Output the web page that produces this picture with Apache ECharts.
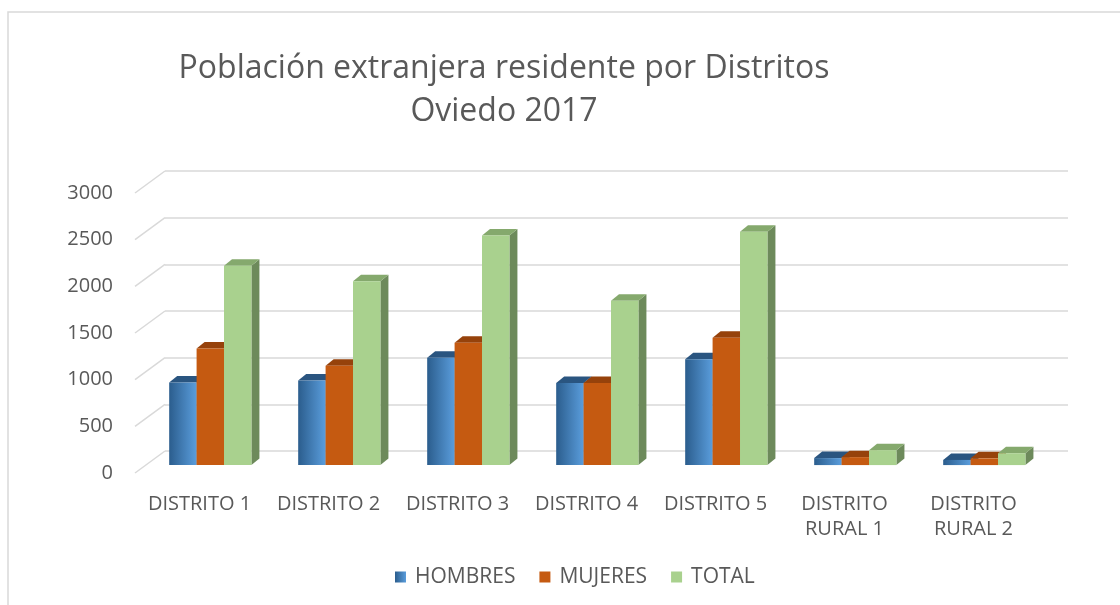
<!DOCTYPE html>
<html>
<head>
<meta charset="utf-8">
<title>Población extranjera residente por Distritos</title>
<script src="https://cdn.jsdelivr.net/npm/echarts/dist/echarts.min.js"></script>
<style>
  html, body { margin: 0; padding: 0; background: #ffffff; }
  #chart { width: 1120px; height: 605px; }
</style>
</head>
<body>
<div id="chart"></div>
<script>
// ---- data ----
const categories = ['DISTRITO 1', 'DISTRITO 2', 'DISTRITO 3', 'DISTRITO 4', 'DISTRITO 5', 'DISTRITO\nRURAL 1', 'DISTRITO\nRURAL 2'];
const hombres = [885, 905, 1150, 880, 1135, 75, 55];
const mujeres = [1250, 1065, 1310, 880, 1365, 85, 72];
const total   = [2135, 1970, 2460, 1760, 2500, 160, 127];
const yTicks  = [0, 500, 1000, 1500, 2000, 2500, 3000];
const seriesNames = ['HOMBRES', 'MUJERES', 'TOTAL'];

// ---- pseudo-3D geometry ----
const FRONT = { left: 135, top: 193, width: 903, height: 280 };   // front edge of the floor
const DEPTH = [30, -22];                                           // front edge -> back wall
const BAR_PLANE = 0.36;                                            // bars sit this far into the depth
const BAR_DEPTH = [8, -6.5];                                       // thickness of each column
const BAR_FRACTION = 0.2125;                                       // column width / category band
const TEXT = '#595959';
const GRID_LINE = '#d9d9d9';

const chart = echarts.init(document.getElementById('chart'));

function gridAt(fx, fy) {
  return {
    left: FRONT.left + fx, top: FRONT.top + fy,
    width: FRONT.width, height: FRONT.height, containLabel: false
  };
}

const faces = [
  {
    front: new echarts.graphic.LinearGradient(0, 0, 1, 0, [
      { offset: 0, color: '#2b5d8d' }, { offset: 1, color: '#5a9ddc' }
    ]),
    top: '#2a5580', side: '#264f78'
  },
  { front: '#c55a11', top: '#96420b', side: '#8a3d0a' },
  { front: '#a9d18e', top: '#85a96d', side: '#6d8a5b' }
];

function columnSeries(name, values, idx) {
  const f = faces[idx];
  return {
    type: 'custom',
    name: name,
    xAxisIndex: 0,
    yAxisIndex: 0,
    itemStyle: { color: f.front },
    data: values.map((v, i) => [i, v]),
    renderItem(params, api) {
      const i = api.value(0);
      const v = api.value(1);
      const base = api.coord([i, 0]);
      const top = api.coord([i, v]);
      const band = api.size([1, 0])[0];
      const bw = band * BAR_FRACTION;
      const x0 = base[0] - 1.5 * bw + idx * bw;
      const x1 = x0 + bw;
      const y0 = top[1];
      const y1 = base[1];
      const dx = BAR_DEPTH[0], dy = BAR_DEPTH[1];
      return {
        type: 'group',
        children: [
          { type: 'polygon', shape: { points: [[x1, y1], [x1, y0], [x1 + dx, y0 + dy], [x1 + dx, y1 + dy]] },
            style: { fill: f.side } },
          { type: 'polygon', shape: { points: [[x0, y0], [x1, y0], [x1 + dx, y0 + dy], [x0 + dx, y0 + dy]] },
            style: { fill: f.top } },
          { type: 'rect', shape: { x: x0, y: y0, width: bw, height: y1 - y0 },
            style: { fill: f.front } }
        ]
      };
    }
  };
}

const valueAxisBase = { type: 'value', min: 0, max: 3000, interval: 500 };

const option = {
  backgroundColor: '#ffffff',
  animation: false,
  textStyle: { fontFamily: '"Open Sans", "Noto Sans", sans-serif' },
  title: {
    text: 'Población extranjera residente por Distritos\nOviedo 2017',
    left: 499,
    top: 42,
    textAlign: 'center',
    textStyle: {
      fontFamily: '"Open Sans", "Noto Sans", sans-serif',
      fontSize: 32, fontWeight: 'normal', color: TEXT, lineHeight: 43
    }
  },
  legend: {
    data: seriesNames,
    left: 390,
    top: 560,
    icon: 'rect',
    itemWidth: 11,
    itemHeight: 11,
    itemGap: 24,
    textStyle: { fontSize: 21, color: TEXT, lineHeight: 24, padding: [0, 0, 0, 4] }
  },
  graphic: [{
    type: 'rect', silent: true, z: -10,
    shape: { x: 8, y: 12, width: 1200, height: 700 },
    style: { fill: 'none', stroke: GRID_LINE, lineWidth: 1.5 }
  }],
  grid: [
    gridAt(DEPTH[0] * BAR_PLANE, DEPTH[1] * BAR_PLANE),   // columns
    gridAt(0, 0),                                         // front edge: labels
    gridAt(DEPTH[0], DEPTH[1])                            // back wall: gridlines
  ],
  xAxis: [
    { type: 'category', data: categories, gridIndex: 0, show: false },
    {
      type: 'category', data: categories, gridIndex: 1,
      axisLine: { show: false }, axisTick: { show: false },
      axisLabel: { fontSize: 20, color: TEXT, margin: 19, lineHeight: 25, interval: 0 }
    },
    { type: 'category', data: categories, gridIndex: 2, show: false }
  ],
  yAxis: [
    Object.assign({}, valueAxisBase, { gridIndex: 0, show: false }),
    Object.assign({}, valueAxisBase, {
      gridIndex: 1,
      axisLine: { show: false }, axisTick: { show: false }, splitLine: { show: false },
      axisLabel: { fontSize: 20, color: TEXT, margin: 22, formatter: v => String(v) }
    }),
    Object.assign({}, valueAxisBase, {
      gridIndex: 2,
      axisLine: { show: false }, axisTick: { show: false }, axisLabel: { show: false },
      splitLine: { show: true, lineStyle: { color: GRID_LINE, width: 1.5 } }
    })
  ],
  series: [
    {
      // side wall lines joining the front edge to the back wall
      type: 'custom',
      name: 'side-wall',
      silent: true,
      xAxisIndex: 1,
      yAxisIndex: 1,
      data: yTicks.map(v => [0, v]),
      renderItem(params, api) {
        const cs = params.coordSys;
        const y = api.coord([0, api.value(1)])[1];
        const x = cs.x;
        return {
          type: 'line',
          shape: { x1: x, y1: y, x2: x + DEPTH[0], y2: y + DEPTH[1] },
          style: { stroke: GRID_LINE, lineWidth: 1.5 }
        };
      }
    },
    columnSeries(seriesNames[0], hombres, 0),
    columnSeries(seriesNames[1], mujeres, 1),
    columnSeries(seriesNames[2], total, 2)
  ]
};

chart.setOption(option);
</script>
</body>
</html>
